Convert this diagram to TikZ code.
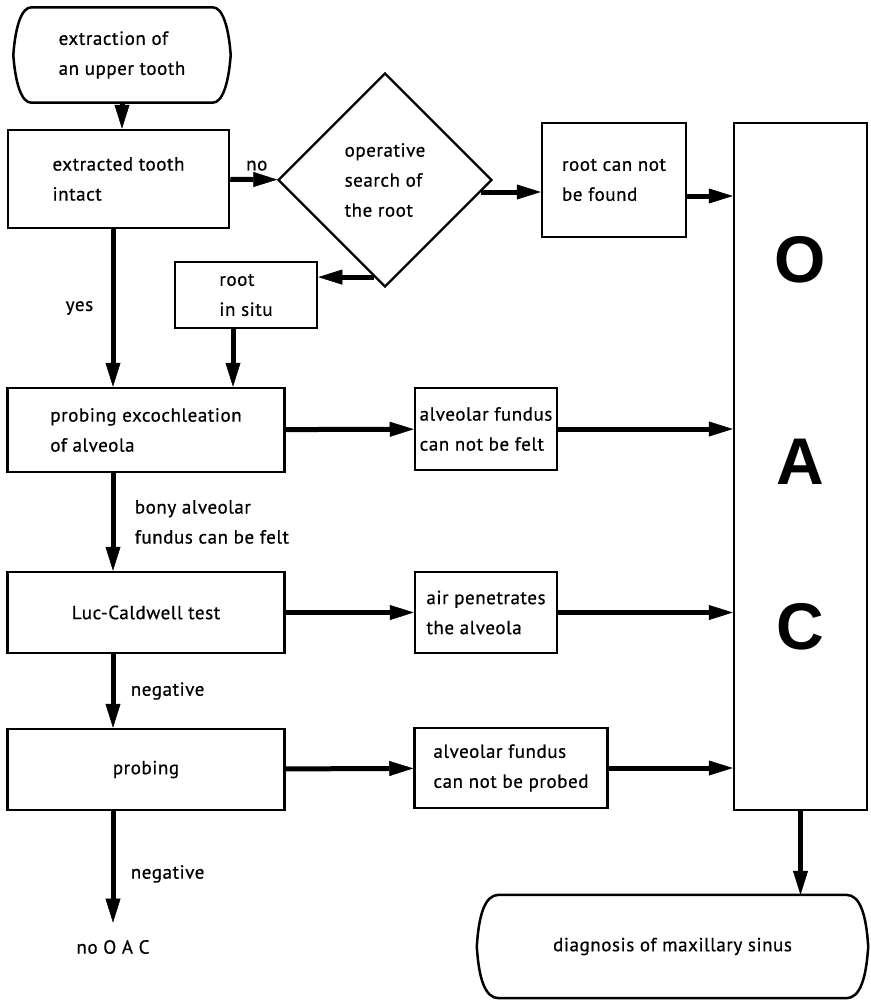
\documentclass[tikz,border=0pt]{standalone}
\usepackage{fontspec}
\setmainfont{PT Sans}[LetterSpace=3, FakeBold=0.6]
\newfontfamily\oacfont{Liberation Sans}
\usetikzlibrary{shapes.geometric,arrows.meta}
\tikzstyle{procbox} = [draw=black, line width=2.5pt, rectangle, align=left, inner sep=0pt]
\tikzstyle{termbox} = [rectangle, align=left, inner sep=0pt]
\tikzstyle{decbox} = [draw=black, line width=2.2pt, diamond, aspect=1,
    align=left, inner sep=0pt, minimum size=214pt]
\tikzstyle{outline} = [draw=black, line width=2.5pt]
\tikzstyle{arr} = [line width=5pt, -{Triangle[length=24pt,width=15pt,line width=0.5pt]}]
\tikzstyle{bigletter} = [font=\oacfont\bfseries\fontsize{66}{66}\selectfont]
% outline of a terminal with bulging sides
\newcommand{\termoutline}[2]{%
  \draw[outline] ([xshift=#2]#1.north west) -- ([xshift=-#2]#1.north east)
    .. controls ([xshift=-8pt]#1.north east) and ([xshift=-2pt,yshift=-20pt]#1.north east) .. (#1.east)
    .. controls ([xshift=-2pt,yshift=20pt]#1.south east) and ([xshift=-8pt]#1.south east) .. ([xshift=-#2]#1.south east)
    -- ([xshift=#2]#1.south west)
    .. controls ([xshift=8pt]#1.south west) and ([xshift=2pt,yshift=20pt]#1.south west) .. (#1.west)
    .. controls ([xshift=2pt,yshift=-20pt]#1.north west) and ([xshift=8pt]#1.north west) .. cycle;}

\begin{document}
\begin{tikzpicture}[x=1pt, y=-1pt, font=\fontsize{19}{30}\selectfont]
    \useasboundingbox (0,0) rectangle (870,1001);

    \node[termbox, minimum width=217pt, minimum height=95pt] (start) at (122,55) {extraction of\\an upper tooth};
    \node[procbox, minimum width=221pt, minimum height=98pt] (intact) at (118.5,179) {extracted tooth\\intact};
    \node[decbox] (search) at (385,180) {operative\\search of\\the root};
    \node[procbox, minimum width=144pt, minimum height=114pt] (notfound) at (614,180) {root can not\\be found};
    \node[procbox, minimum width=133pt, minimum height=687pt] (oac) at (800.5,466.5) {};
    \node[bigletter] (oacO) at (800,260) {O};
    \node[bigletter] (oacA) at (800,462) {A};
    \node[bigletter] (oacC) at (800,627) {C};
    \node[procbox, minimum width=142pt, minimum height=66pt] (insitu) at (246,295) {root\\in situ};
    \node[procbox, minimum width=277pt, minimum height=84pt] (excoch) at (146,430) {probing excochleation\\ of alveola};
    \node[procbox, minimum width=142pt, minimum height=82pt] (felt) at (486,429) {alveolar fundus\\can not be felt};
    \node[procbox, minimum width=277pt, minimum height=81pt] (lucc) at (146,612.5) {Luc-Caldwell test};
    \node[procbox, minimum width=142pt, minimum height=81pt] (air) at (486,612.5) {air penetrates\\the alveola};
    \node[procbox, minimum width=277pt, minimum height=81pt] (probing) at (146,769.5) {probing};
    \node[procbox, minimum width=193pt, minimum height=80pt] (probed) at (511,768) {alveolar fundus\\can not be probed};
    \node (nooac) at (113,947) {no O A C};
    \node[termbox, minimum width=391pt, minimum height=103pt] (diag) at (672.5,946.5) {diagnosis of maxillary sinus};

    \termoutline{start}{18pt}
    \termoutline{diag}{22pt}

    \draw[arr] (start.south) -- (start.south |- intact.north);
    \draw[arr] (intact) -- node[above=3pt, xshift=3pt] {no} (search);
    \draw[arr] (search.east) ++(-12,12) coordinate (s1) -- (s1 -| notfound.west);
    \draw[arr] ([yshift=-16pt]notfound.east) coordinate (n1) -- (n1 -| oac.west);
    \draw[arr] (search.south) ++(-11,-11) coordinate (s2) -- (s2 -| insitu.east);
    \draw[arr] ([xshift=-13pt]insitu.south) coordinate (i1) -- (i1 |- excoch.north);
    \draw[arr] (intact.south -| nooac) -- node[left=14pt] {yes} (excoch.north -| nooac);
    \draw[arr] (excoch) -- (felt);
    \draw[arr] (felt.east) -- (felt.east -| oac.west);
    \draw[arr] (excoch.south -| nooac) -- node[right=16pt, align=left] {bony alveolar\\fundus can be felt} (lucc.north -| nooac);
    \draw[arr] (lucc) -- (air);
    \draw[arr] (air.east) -- (air.east -| oac.west);
    \draw[arr] (lucc.south -| nooac) -- node[right=12pt] {negative} (probing.north -| nooac);
    \draw[arr] (probing) -- (probed);
    \draw[arr] (probed.east) -- (probed.east -| oac.west);
    \draw[arr, shorten >=14pt] (probing.south -| nooac) -- node[right=12pt] {negative} (nooac);
    \draw[arr] (oac.south) -- (oac.south |- diag.north);
\end{tikzpicture}
\end{document}
